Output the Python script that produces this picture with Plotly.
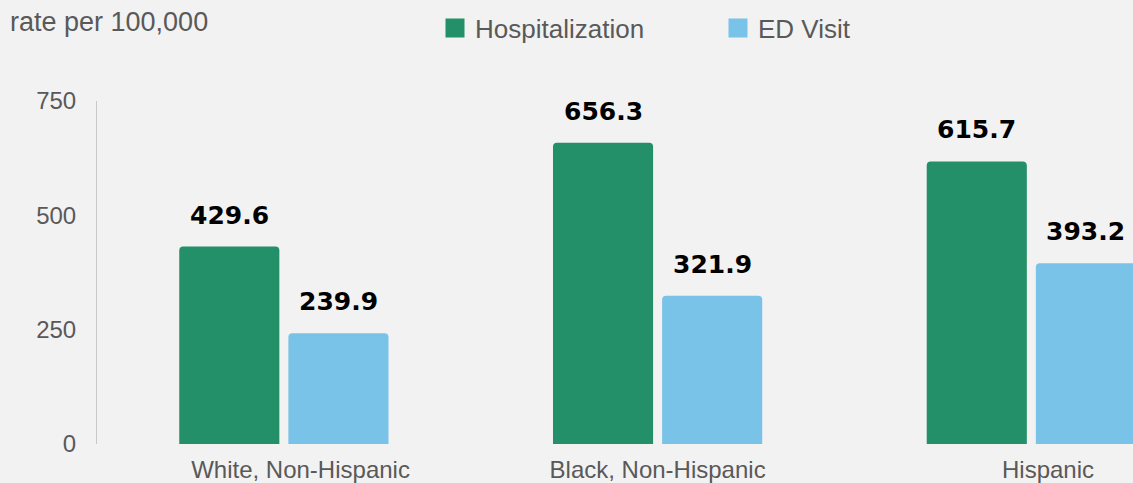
import plotly.graph_objects as go

categories = ["White, Non-Hispanic", "Black, Non-Hispanic", "Hispanic"]
hospitalization = [429.6, 656.3, 615.7]
ed_visit = [239.9, 321.9, 393.2]
series_names = ["Hospitalization", "ED Visit"]
y_ticks = [0, 250, 500, 750]
# tick labels (leading non-breaking spaces nudge label placement as in the original)
tick_text = ["\u00a0" * 5 + categories[0], categories[1], "\u00a0" * 5 + categories[2]]

GREEN = "#239069"
BLUE = "#79c2e8"
GRAY = "#595959"
BG = "#f2f2f2"

fig = go.Figure()
series = [(series_names[0], hospitalization, GREEN, -54.5),
          (series_names[1], ed_visit, BLUE, 54.5)]
for name, vals, col, shift in series:
    fig.add_trace(go.Bar(
        x=categories, y=vals, name=name, marker=dict(color=col, line=dict(width=2, color=col)),
        showlegend=False,
    ))
    fig.add_trace(go.Scatter(
        x=[None], y=[None], mode="markers", name=name,
        marker=dict(symbol="square", size=16, color=col, line=dict(width=3, color=col)),
    ))
    for c, v in zip(categories, vals):
        fig.add_annotation(
            x=c, y=v, xref="x", yref="y", text=f"{v:.1f}", showarrow=False,
            xshift=shift, yshift=16, yanchor="bottom", xanchor="center",
            font=dict(family="DejaVu Sans", size=25, color="black", weight="bold"),
        )

fig.update_layout(
    width=1133, height=483,
    paper_bgcolor=BG, plot_bgcolor=BG,
    margin=dict(l=97, r=0, t=101, b=39),
    barmode="group", bargap=0.416, bargroupgap=0.101, barcornerradius=3,
    font=dict(family="Liberation Sans", color=GRAY, size=24),
    title=dict(text="rate per 100,000", xref="container", yref="container",
               x=10 / 1133, xanchor="left", y=1 - 22 / 483, yanchor="middle",
               font=dict(size=27, color=GRAY, family="Liberation Sans")),
    legend=dict(orientation="h", xref="container", yref="container",
                x=435 / 1133, xanchor="left", y=1 - 28 / 483, yanchor="middle",
                font=dict(size=26, color=GRAY), itemsizing="trace",
                entrywidth=238, bgcolor="rgba(0,0,0,0)"),
    xaxis=dict(range=[-0.5, 2.272], showgrid=False, zeroline=False, showline=False,
               tickvals=categories, ticktext=tick_text,
               ticks="", tickfont=dict(size=24, color=GRAY), ticklabelstandoff=9),
    yaxis=dict(range=[0, 750], tickvals=y_ticks, showgrid=False, zeroline=False,
               showline=True, linecolor="#c8c8c8", linewidth=1,
               ticks="", tickfont=dict(size=24, color=GRAY), ticklabelstandoff=15),
)

fig.write_html("out.html")
